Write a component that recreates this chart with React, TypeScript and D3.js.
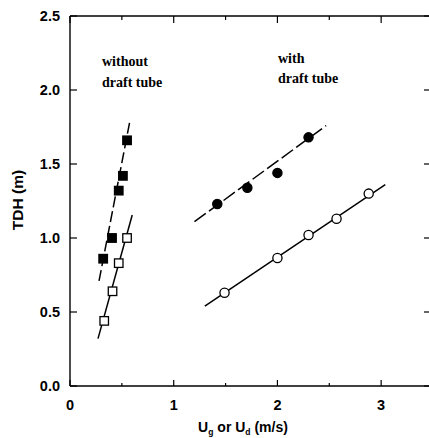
import React from "react";
import * as d3 from "d3";

// Measured points: TDH (m) versus superficial velocity (m/s)
const sqFilledX = [0.32, 0.405, 0.47, 0.51, 0.55];
const sqFilledY = [0.86, 1.0, 1.32, 1.42, 1.66];
const sqOpenX = [0.33, 0.41, 0.47, 0.55];
const sqOpenY = [0.44, 0.64, 0.83, 1.0];
const ciFilledX = [1.42, 1.71, 2.0, 2.3];
const ciFilledY = [1.23, 1.34, 1.44, 1.68];
const ciOpenX = [1.49, 2.0, 2.3, 2.57, 2.88];
const ciOpenY = [0.63, 0.865, 1.02, 1.13, 1.3];

// Fitted straight lines: [x0, y0, x1, y1]
const fitSqFilled = [0.28, 0.71, 0.58, 1.8];
const fitSqOpen = [0.27, 0.32, 0.6, 1.155];
const fitCiFilled = [1.2, 1.11, 2.47, 1.76];
const fitCiOpen = [1.3, 0.54, 3.04, 1.36];

const xMajor = [0, 1, 2, 3];
const xMinor = [0.5, 1.5, 2.5];
const yMajor = [0, 0.5, 1.0, 1.5, 2.0, 2.5];

const W = 429;
const H = 438;

export default function App() {
  const x = d3.scaleLinear().domain([0, 3.5]).range([70, 433]);
  const y = d3.scaleLinear().domain([0, 2.5]).range([386, 16]);
  const line = (f: number[]) =>
    d3.line()([
      [x(f[0]), y(f[1])],
      [x(f[2]), y(f[3])],
    ]) as string;
  const pts = (xs: number[], ys: number[]) => xs.map((v, i) => [x(v), y(ys[i])]);

  const tickFont = { fontFamily: "Liberation Sans, Arial, sans-serif", fontWeight: 700, fontSize: 14.5 };
  const noteFont = { fontFamily: "Liberation Serif, Times New Roman, serif", fontWeight: 700, fontSize: 14 };
  const sq = 8.5;

  return (
    <svg
      width={W}
      height={H}
      style={{ position: "absolute", left: 0, top: 0, background: "#fff" }}
    >
      {/* frame */}
      <g stroke="#000" strokeWidth={1.4} fill="none">
        <line x1={x(0)} x2={x(0)} y1={y(0)} y2={y(2.5)} />
        <line x1={x(0)} x2={x(3.5)} y1={y(0)} y2={y(0)} />
        <line x1={x(0)} x2={x(3.5)} y1={y(2.5)} y2={y(2.5)} />
        <line x1={x(3.5)} x2={x(3.5)} y1={y(0)} y2={y(2.5)} />
      </g>
      {/* ticks */}
      <g stroke="#000" strokeWidth={1.2}>
        {yMajor.map((v) => (
          <g key={"y" + v}>
            <line x1={x(0)} x2={x(0) + 7} y1={y(v)} y2={y(v)} />
            <line x1={x(3.5)} x2={x(3.5) - 9} y1={y(v)} y2={y(v)} />
          </g>
        ))}
        {xMajor.map((v) => (
          <g key={"x" + v}>
            <line x1={x(v)} x2={x(v)} y1={y(0)} y2={y(0) - 6} />
            <line x1={x(v)} x2={x(v)} y1={y(2.5)} y2={y(2.5) + 7} />
          </g>
        ))}
        {xMinor.map((v) => (
          <g key={"xm" + v}>
            <line x1={x(v)} x2={x(v)} y1={y(0)} y2={y(0) - 3} />
            <line x1={x(v)} x2={x(v)} y1={y(2.5)} y2={y(2.5) + 4} />
          </g>
        ))}
      </g>
      {/* tick labels */}
      <g style={tickFont} fill="#000">
        {yMajor.map((v) => (
          <text key={"yl" + v} x={x(0) - 10} y={y(v) + 5} textAnchor="end">
            {v.toFixed(1)}
          </text>
        ))}
        {xMajor.map((v) => (
          <text key={"xl" + v} x={x(v)} y={y(0) + 24} textAnchor="middle">
            {v}
          </text>
        ))}
      </g>
      {/* axis titles */}
      <text
        transform={`translate(23,200) rotate(-90)`}
        textAnchor="middle"
        style={{ fontFamily: "Liberation Sans, Arial, sans-serif", fontWeight: 700, fontSize: 15.5 }}
      >
        TDH (m)
      </text>
      <text
        x={243}
        y={432}
        textAnchor="middle"
        style={{ fontFamily: "Liberation Sans, Arial, sans-serif", fontWeight: 700, fontSize: 14 }}
      >
        U<tspan fontSize={8.5} dy={3}>g</tspan>
        <tspan dy={-3}> or U</tspan>
        <tspan fontSize={8.5} dy={3}>d</tspan>
        <tspan dy={-3}> (m/s)</tspan>
      </text>
      {/* notes */}
      <g style={noteFont} fill="#000">
        <text x={102} y={66}>without</text>
        <text x={102} y={87}>draft tube</text>
        <text x={278} y={63}>with</text>
        <text x={278} y={83}>draft tube</text>
      </g>
      {/* fitted lines */}
      <g stroke="#000" strokeWidth={1.5} fill="none">
        <path d={line(fitSqFilled)} strokeDasharray="11,4" />
        <path d={line(fitSqOpen)} />
        <path d={line(fitCiFilled)} strokeDasharray="14,4" />
        <path d={line(fitCiOpen)} />
      </g>
      {/* markers */}
      <g stroke="#000" strokeWidth={1.3}>
        {pts(sqFilledX, sqFilledY).map(([px, py], i) => (
          <rect key={"sf" + i} x={px - sq / 2} y={py - sq / 2} width={sq} height={sq} fill="#000" />
        ))}
        {pts(sqOpenX, sqOpenY).map(([px, py], i) => (
          <rect key={"so" + i} x={px - sq / 2} y={py - sq / 2} width={sq} height={sq} fill="#fff" />
        ))}
        {pts(ciFilledX, ciFilledY).map(([px, py], i) => (
          <circle key={"cf" + i} cx={px} cy={py} r={4.6} fill="#000" />
        ))}
        {pts(ciOpenX, ciOpenY).map(([px, py], i) => (
          <circle key={"co" + i} cx={px} cy={py} r={4.6} fill="#fff" />
        ))}
      </g>
    </svg>
  );
}
